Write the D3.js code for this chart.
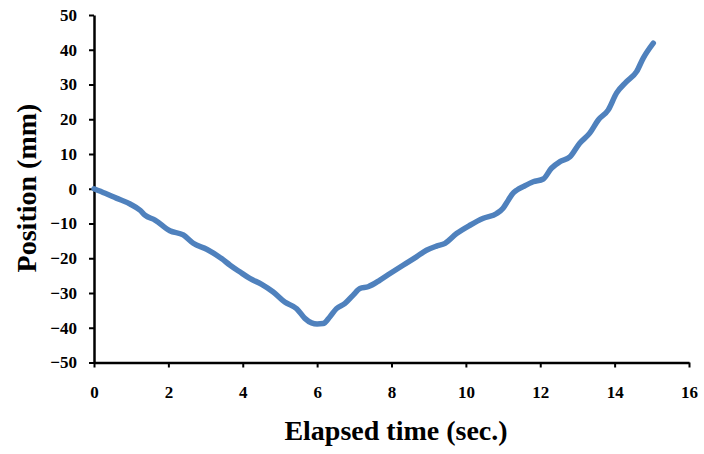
<!DOCTYPE html>
<html>
<head>
<meta charset="utf-8">
<script src="https://cdn.jsdelivr.net/npm/d3@7"></script>
<style>
  body { margin: 0; background: #fff; }
  svg text { font-family: "Liberation Serif", "Times New Roman", serif; font-weight: bold; }
</style>
</head>
<body>
<div id="chart"></div>
<script>
// elapsed time (sec.) and position (mm)
const times = [0, 0.3, 0.6, 0.97, 1.24, 1.37, 1.64, 2.04, 2.4, 2.67, 3.03, 3.43, 3.66, 3.92, 4.19, 4.51,
  4.82, 5.13, 5.45, 5.67, 5.85, 6.0, 6.16, 6.34, 6.52, 6.75, 6.97, 7.15, 7.37, 7.69, 7.96, 8.31,
  8.67, 8.94, 9.21, 9.44, 9.75, 10.11, 10.47, 10.83, 11.0, 11.14, 11.25, 11.37, 11.54, 11.81,
  12.08, 12.3, 12.53, 12.8, 13.06, 13.33, 13.56, 13.83, 14.05, 14.32, 14.59, 14.77, 15.04];
const positions = [0, -1.3, -2.7, -4.4, -6.2, -7.6, -9.0, -12.1, -13.3, -15.7, -17.4, -20.1, -22.0, -23.9, -25.8, -27.5,
  -29.7, -32.6, -34.5, -37.3, -38.6, -38.9, -38.8, -36.9, -34.5, -33.0, -30.6, -28.7, -28.2, -26.3, -24.4, -22.0,
  -19.6, -17.7, -16.5, -15.7, -12.9, -10.5, -8.5, -7.1, -5.6, -3.3, -1.5, -0.4, 0.6, 2.0,
  2.8, 5.9, 7.8, 9.2, 13.1, 16.0, 19.8, 22.7, 27.5, 30.8, 33.7, 37.6, 41.9];
const xTicks = [0, 2, 4, 6, 8, 10, 12, 14, 16];
const yTicks = [-50, -40, -30, -20, -10, 0, 10, 20, 30, 40, 50];

const width = 704;
const height = 454;

const svg = d3.select("#chart").append("svg")
  .attr("width", width)
  .attr("height", height);

const x = d3.scaleLinear().domain([0, 16]).range([94, 689]);
const y = d3.scaleLinear().domain([-50, 50]).range([362.5, 15]);

// y axis
const yAxis = svg.append("g")
  .attr("transform", "translate(94,0)")
  .call(d3.axisLeft(y).tickValues(yTicks).tickSize(5).tickPadding(12).tickSizeOuter(0));
yAxis.select(".domain").attr("stroke", "#000").attr("stroke-width", 2.5);
yAxis.selectAll(".tick line").attr("stroke", "#000").attr("stroke-width", 2);
yAxis.selectAll(".tick text").attr("font-size", 17).attr("fill", "#000");

// x axis
const xAxis = svg.append("g")
  .attr("transform", `translate(0,${y(-50)})`)
  .call(d3.axisBottom(x).tickValues(xTicks).tickSize(5).tickPadding(18).tickSizeOuter(0));
xAxis.select(".domain").attr("stroke", "#000").attr("stroke-width", 2.5);
xAxis.selectAll(".tick line").attr("stroke", "#000").attr("stroke-width", 2);
xAxis.selectAll(".tick text").attr("font-size", 17).attr("fill", "#000");

// line
const data = times.map((t, i) => ({t: t, p: positions[i]}));
const line = d3.line()
  .x(d => x(d.t))
  .y(d => y(d.p))
  .curve(d3.curveMonotoneX);

svg.append("path")
  .datum(data)
  .attr("d", line)
  .attr("fill", "none")
  .attr("stroke", "#4F81BD")
  .attr("stroke-width", 5.5)
  .attr("stroke-linecap", "round")
  .attr("stroke-linejoin", "round");

// titles
svg.append("text")
  .attr("x", 396)
  .attr("y", 440)
  .attr("text-anchor", "middle")
  .attr("font-size", 28)
  .text("Elapsed time (sec.)");

svg.append("text")
  .attr("transform", "translate(36,188) rotate(-90)")
  .attr("text-anchor", "middle")
  .attr("font-size", 28)
  .text("Position (mm)");
</script>
</body>
</html>
